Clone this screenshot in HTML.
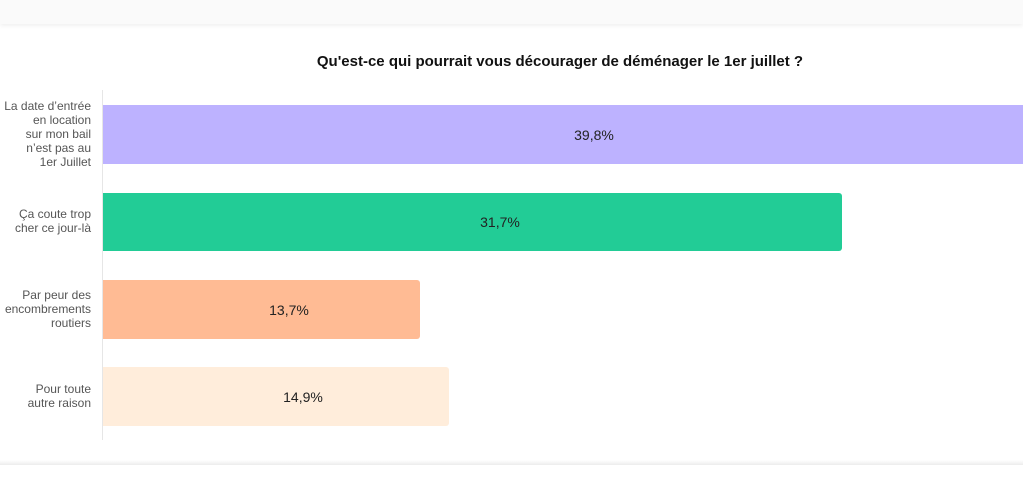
<!DOCTYPE html>
<html><head><meta charset="utf-8"><style>
body{margin:0;width:1023px;height:482px;background:#fff;position:relative;overflow:hidden;font-family:"Liberation Sans",Arial,sans-serif}
.top{position:absolute;left:0;top:0;width:1023px;height:24px;background:#fafafa;box-shadow:0 2px 4px rgba(0,0,0,0.06)}
.bot{position:absolute;left:0;top:460px;width:1023px;height:5px;background:linear-gradient(#fff,#ececec)}
.title{position:absolute;left:0;width:1120px;top:53px;text-align:center;font-size:15px;font-weight:bold;color:#111}
.axis{position:absolute;left:102px;top:90px;width:1px;height:350px;background:#e6e6e6}
.bar{position:absolute;left:103px;border-radius:0 3px 3px 0;font-size:14px;color:#222}
.bar span{position:absolute;top:50%;transform:translate(-50%,-50%);white-space:nowrap}
.lab{position:absolute;right:932px;text-align:right;font-size:12px;line-height:14px;color:#555}
</style></head><body>
<div class="top"></div>
<div class="title">Qu'est-ce qui pourrait vous décourager de déménager le 1er juillet ?</div>
<div class="axis"></div>
<div class="bar" style="top:105px;height:59px;width:920px;background:#bdb2ff;border-radius:0"><span style="left:491px">39,8%</span></div>
<div class="bar" style="top:193px;height:58px;width:739px;background:#22cc96"><span style="left:397px">31,7%</span></div>
<div class="bar" style="top:280px;height:59px;width:317px;background:#ffbb94"><span style="left:186px">13,7%</span></div>
<div class="bar" style="top:367px;height:59px;width:346px;background:#ffeddb"><span style="left:200px">14,9%</span></div>
<div class="lab" style="top:99px">La date d’entrée<br>en location<br>sur mon bail<br>n’est pas au<br>1er Juillet</div>
<div class="lab" style="top:207px">Ça coute trop<br>cher ce jour-là</div>
<div class="lab" style="top:288px">Par peur des<br>encombrements<br>routiers</div>
<div class="lab" style="top:382px">Pour toute<br>autre raison</div>
<div class="bot"></div>
</body></html>
